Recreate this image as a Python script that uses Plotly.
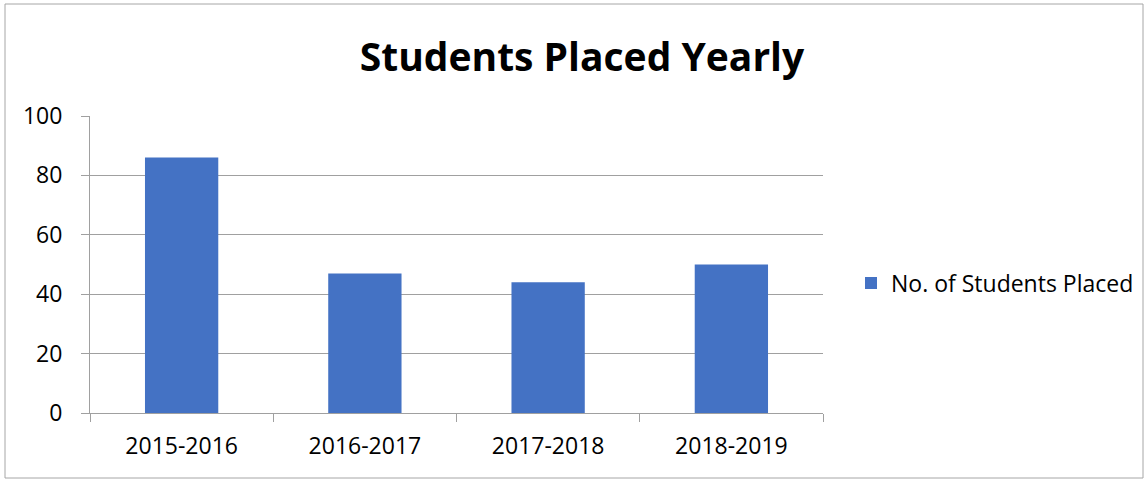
import plotly.graph_objects as go

categories = ["2015-2016", "2016-2017", "2017-2018", "2018-2019"]
placed = [86, 47, 44, 50]
series_name = "No. of Students Placed"
title_text = "Students Placed Yearly"

FONT = "Open Sans, Noto Sans, sans-serif"

fig = go.Figure()
fig.add_trace(go.Bar(x=categories, y=placed, name=series_name,
                     marker=dict(color="#4472C4", line=dict(width=0)),
                     showlegend=True))

W, H = 1146, 480
L, R, T, B = 90, 323, 116, 67
pw, ph = W - L - R, H - T - B

def px_x(x):
    return (x - L) / pw

def px_y(y):
    return (H - B - y) / ph

fig.update_layout(
    width=W, height=H,
    margin=dict(l=L, r=R, t=T, b=B, autoexpand=False),
    paper_bgcolor="white", plot_bgcolor="white",
    bargap=0.6,
    font=dict(family=FONT, size=23, color="#000000"),
    title=dict(text="<b>" + title_text + "</b>", x=582 / W, xanchor="center",
               y=1 - 57 / H, yanchor="middle",
               font=dict(family=FONT, size=39, color="#000000")),
    legend=dict(x=px_x(851), y=px_y(283), xanchor="left", yanchor="middle",
                font=dict(family=FONT, size=23, color="#000000"),
                itemwidth=30, bgcolor="rgba(0,0,0,0)"),
    xaxis=dict(type="category", tickson="boundaries", ticks="outside", ticklen=8,
               tickcolor="#a0a0a0", showline=True, linecolor="#a0a0a0", linewidth=1,
               showgrid=False, tickfont=dict(size=23), ticklabelstandoff=12),
    yaxis=dict(range=[0, 100], dtick=20, ticks="outside", ticklen=8,
               tickcolor="#a0a0a0", showline=True, linecolor="#a0a0a0", linewidth=1,
               showgrid=True, gridcolor="#a0a0a0", gridwidth=1, zeroline=False,
               tickfont=dict(size=23), ticklabelstandoff=14),
    shapes=[dict(type="rect", xref="paper", yref="paper",
                 x0=px_x(5), x1=px_x(1143), y0=px_y(478), y1=px_y(4),
                 line=dict(color="#a6a6a6", width=1), layer="below")],
)

fig.write_html("out.html", config={"displayModeBar": False},
               post_script="document.body.style.margin='0';")
